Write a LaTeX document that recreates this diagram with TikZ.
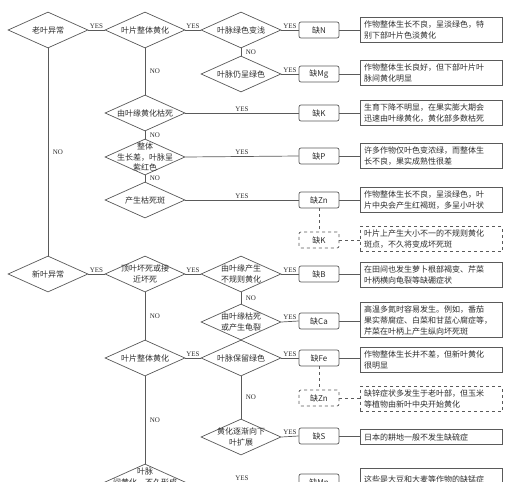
\documentclass[tikz,border=0pt]{standalone}
\usepackage{fontspec}
\setmainfont{Liberation Serif}
\newfontfamily\cjk{Noto Sans CJK SC}
\usetikzlibrary{shapes.geometric}
\definecolor{ln}{HTML}{5A5A5A}
\definecolor{tx}{HTML}{2E2E2E}
\begin{document}
\begin{tikzpicture}[x=1pt,y=-1pt,
  dtxt/.style={font=\cjk\fontsize{8}{10.5}\selectfont, text=tx, align=center, inner sep=0pt},
  dia/.style={draw=ln, line width=0.7pt, diamond, minimum width=80pt, minimum height=36pt, inner sep=0pt, label={[dtxt]center:{#1}}},
  qbox/.style={draw=ln, line width=0.7pt, rounded corners=2pt, minimum width=40pt, minimum height=16pt, inner sep=0pt, font=\cjk\fontsize{8}{9.5}\selectfont, text=tx},
  desc/.style={draw=ln, line width=0.7pt, text width=134pt, inner xsep=4pt, inner ysep=3pt, align=left, minimum height=25pt, font=\cjk\fontsize{8}{11}\selectfont, text=tx},
  con/.style={draw=ln, line width=0.7pt},
  dcon/.style={draw=ln, line width=0.7pt, dashed},
  yn/.style={font=\fontsize{7}{8}\selectfont, text=tx, inner sep=1.5pt}
]
\useasboundingbox (0,0) rectangle (512,482);
\clip (0,0) rectangle (512,482);
\fill[white] (0,0) rectangle (512,482);

% diamonds
\node[dia={老叶异常}] (old) at (48,30) {};
\node[dia={新叶异常}] (new) at (48,274) {};
\node[dia={叶片整体黄化}] (wh1) at (145,30) {};
\node[dia={由叶缘黄化枯死}] (edge) at (145,113) {};
\node[dia={整体\\生长差，叶脉呈\\紫红色}] (purple) at (145,157) {};
\node[dia={产生枯死斑}] (spot) at (145,200) {};
\node[dia={顶叶坏死或接\\近坏死}] (top) at (145,274) {};
\node[dia={叶片整体黄化}] (wh2) at (145,358) {};
\node[dia={叶脉\\间黄化，不久形成\\\mbox{}}] (last) at (145,482) {};
\node[dia={叶脉绿色变浅}] (v1) at (241,30) {};
\node[dia={叶脉仍呈绿色}] (v2) at (241,74) {};
\node[dia={由叶缘产生\\不规则黄化}] (eb) at (241,274) {};
\node[dia={由叶缘枯死\\或产生龟裂}] (ec) at (241,322) {};
\node[dia={叶脉保留绿色}] (v3) at (241,358) {};
\node[dia={黄化逐渐向下\\叶扩展}] (down) at (241,437) {};

% element boxes
\node[qbox] (bN) at (319,30) {缺N};
\node[qbox] (bMg) at (319,74) {缺Mg};
\node[qbox] (bK) at (319,113) {缺K};
\node[qbox] (bP) at (319,156) {缺P};
\node[qbox] (bZn) at (319,200) {缺Zn};
\node[qbox, dashed] (bK2) at (319,240) {缺K};
\node[qbox] (bB) at (319,274) {缺B};
\node[qbox] (bCa) at (319,321) {缺Ca};
\node[qbox] (bFe) at (319,358) {缺Fe};
\node[qbox, dashed] (bZn2) at (319,398) {缺Zn};
\node[qbox] (bS) at (319,436) {缺S};
\node[qbox] (bMn) at (319,482) {缺Mn};

% descriptions
\node[desc] (dN) at (431,30) {作物整体生长不良，呈淡绿色，特\\别下部叶片色淡黄化};
\node[desc] (dMg) at (431,73) {作物整体生长良好，但下部叶片叶\\脉间黄化明显};
\node[desc] (dK) at (431,113) {生育下降不明显，在果实膨大期会\\迅速由叶缘黄化，黄化部多数枯死};
\node[desc] (dP) at (431,156) {许多作物仅叶色变浓绿，而整体生\\长不良，果实成熟性很差};
\node[desc] (dZn) at (431,200) {作物整体生长不良，呈淡绿色，叶\\片中央会产生红褐斑，多呈小叶状};
\node[desc, dashed] (dK2) at (431,239) {叶片上产生大小不一的不规则黄化\\斑点，不久将变成坏死斑};
\node[desc] (dB) at (431,275) {在田间也发生萝卜根部褐变、芹菜\\叶柄横向龟裂等缺硼症状};
\node[desc] (dCa) at (431,320) {高温多氮时容易发生。例如，番茄\\果实蒂腐症、白菜和甘蓝心腐症等，\\芹菜在叶柄上产生纵向坏死斑};
\node[desc] (dFe) at (431,360) {作物整体生长并不差，但新叶黄化\\很明显};
\node[desc, dashed] (dZn2) at (431,399) {缺锌症状多发生于老叶部，但玉米\\等植物由新叶中央开始黄化};
\node[desc, minimum height=15pt] (dS) at (431,437) {日本的耕地一般不发生缺硫症};
\node[desc, anchor=north, minimum height=34pt] (dMn) at (431,468) {这些是大豆和大麦等作物的缺锰症\\状，而蔬菜类不发生坏死斑，多从叶};

% YES connectors
\draw[con] (old) -- node[yn, above] {YES} (wh1);
\draw[con] (wh1) -- node[yn, above] {YES} (v1);
\draw[con] (v1) -- node[yn, above] {YES} (bN);
\draw[con] (v2) -- node[yn, above] {YES} (bMg);
\draw[con] (edge) -- node[yn, above] {YES} (bK);
\draw[con] (purple.east) -- node[yn, above] {YES} (bP.west);
\draw[con] (spot) -- node[yn, above] {YES} (bZn);
\draw[con] (new) -- node[yn, above] {YES} (top);
\draw[con] (top) -- node[yn, above] {YES} (eb);
\draw[con] (eb) -- node[yn, above] {YES} (bB);
\draw[con] (ec.east) -- node[yn, above] {YES} (bCa.west);
\draw[con] (wh2) -- node[yn, above] {YES} (v3);
\draw[con] (v3) -- node[yn, above] {YES} (bFe);
\draw[con] (down.east) -- node[yn, above] {YES} (bS.west);
\draw[con] (last) -- node[yn, above] {YES} (bMn);

% NO connectors
\draw[con] (old) -- node[yn, right, xshift=3pt] {NO} (new);
\draw[con] (wh1) -- node[yn, right, xshift=3pt] {NO} (edge);
\draw[con] (edge) -- node[yn, right, xshift=3pt] {NO} (purple);
\draw[con] (purple) -- node[yn, right, xshift=3pt] {NO} (spot);
\draw[con] (top) -- node[yn, right, xshift=3pt] {NO} (wh2);
\draw[con] (wh2) -- node[yn, right, xshift=3pt] {NO} (last);
\draw[con] (v1) -- node[yn, right, xshift=3pt] {NO} (v2);
\draw[con] (eb) -- node[yn, right, xshift=3pt] {NO} (ec);
\draw[con] (v3) -- node[yn, right, xshift=3pt] {NO} (down);

% box to description
\foreach \b/\d in {bN/dN, bMg/dMg, bK/dK, bP/dP, bZn/dZn, bB/dB, bCa/dCa, bFe/dFe, bS/dS, bMn/dMn}
  \draw[con] (\b.east) -- (\b.east -| \d.west);
\draw[dcon] (bZn) -- (bK2);
\draw[dcon] (bK2.east) -- (bK2.east -| dK2.west);
\draw[dcon] (bFe) -- (bZn2);
\draw[dcon] (bZn2.east) -- (bZn2.east -| dZn2.west);
\end{tikzpicture}
\end{document}
